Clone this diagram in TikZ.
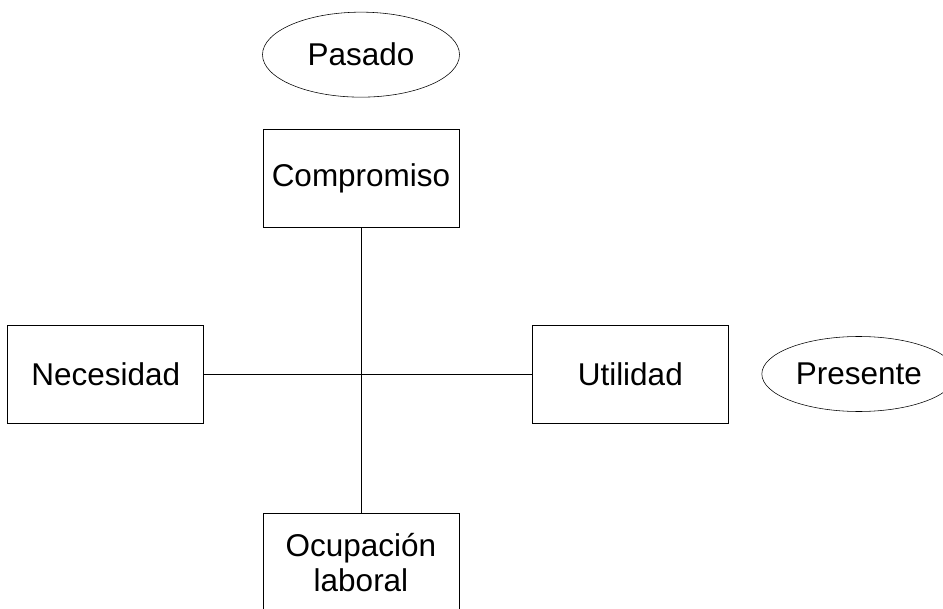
\documentclass[tikz,border=0pt]{standalone}
\usepackage{fontspec}
\setmainfont{Liberation Sans}
\usepackage{tikz}
\usetikzlibrary{positioning}
\usetikzlibrary{shapes}

\begin{document}
\begin{tikzpicture}[ boxnode/.style={rectangle, draw=black, thin,
      minimum width=4.9cm, minimum height=2.45cm, align=center,
      font=\fontsize{22.4}{25}\selectfont},
    ovalnode/.style={ellipse, draw=black, thin, inner sep=0pt,
      font=\fontsize{22.4}{25}\selectfont}, ]
    \useasboundingbox (0,0) rectangle (23.575,15.2);
    % Nodes
    \coordinate (centro) at (9.025,5.85); \node[boxnode] (compromiso)
    [above=3.65cm of centro] {Compromiso}; \node[boxnode]
    (ocupacion) [below=3.475cm of centro] {Ocupación\\laboral};
    \node[boxnode] (necesidad) [left=3.925cm of centro] {Necesidad};
    \node[boxnode] (utilidad) [right=4.275cm of centro] {Utilidad};
    \node[ovalnode, minimum width=4.925cm, minimum height=2.125cm]
    (pasado) [above=0.8cm of compromiso] {Pasado}; \node[ovalnode,
    minimum width=4.85cm, minimum height=1.875cm] (presente)
    [right=0.825cm of utilidad] {Presente};
    % Lines
    \draw (compromiso.south) -- (ocupacion.north); \draw
    (necesidad.east) -- (utilidad.west);
  \end{tikzpicture}
\end{document}
